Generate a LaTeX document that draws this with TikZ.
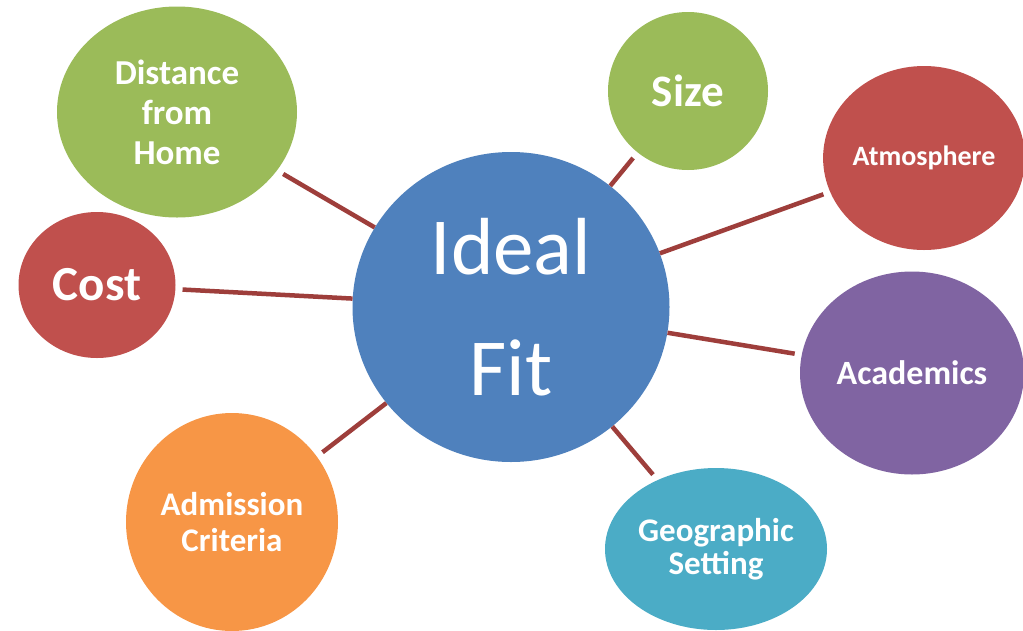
\documentclass[tikz,border=0pt]{standalone}
\usepackage{fontspec}
\setmainfont{Carlito}
\usetikzlibrary{shapes.geometric}
\definecolor{fitblue}{HTML}{4F81BD}
\definecolor{fitgreen}{HTML}{9BBB59}
\definecolor{fitred}{HTML}{C0504D}
\definecolor{fitpurple}{HTML}{8064A2}
\definecolor{fitorange}{HTML}{F79646}
\definecolor{fitteal}{HTML}{4BACC6}
\definecolor{linkred}{HTML}{9E3E3B}
\tikzset{
	bubble/.style={ellipse, inner sep=0pt, text=white, align=center, font=\bfseries},
	link/.style={line width=4.5pt, draw=linkred, shorten <=7pt},
}
\begin{document}
	\begin{tikzpicture}[x=1pt, y=-1pt]
		\fill[white] (0,0) rectangle (1023,630);
		\useasboundingbox (0,0) rectangle (1023,630);
		% Centre
		\node[ellipse, fill=fitblue, text=white, align=center, minimum width=317pt, minimum height=310pt, font=\fontsize{81}{121}\selectfont] (ideal) at (511,307) {Ideal\\Fit};
		% Satellites
		\node[bubble, fill=fitgreen, minimum width=240pt, minimum height=211pt, font=\fontsize{35}{40}\selectfont\bfseries] (distance) at (177,112) {Distance\\from\\Home};
		\node[bubble, fill=fitred, minimum width=157pt, minimum height=146pt, font=\fontsize{49}{50}\selectfont\bfseries] (cost) at (97,285) {Cost};
		\node[bubble, fill=fitorange, minimum width=212pt, minimum height=218pt, font=\fontsize{33}{36}\selectfont\bfseries] (admission) at (232,522) {Admission\\Criteria};
		\node[bubble, fill=fitgreen, minimum width=160pt, minimum height=158pt, font=\fontsize{45}{50}\selectfont\bfseries] (size) at (688,91) {Size};
		\node[bubble, fill=fitred, minimum width=198pt, minimum height=184pt, font=\fontsize{28}{32}\selectfont\bfseries] (atmosphere) at (924,158) {Atmosphere};
		\node[bubble, fill=fitpurple, minimum width=224pt, minimum height=203pt, font=\fontsize{34}{38}\selectfont\bfseries] (academics) at (912,373) {Academics};
		\node[bubble, fill=fitteal, minimum width=222pt, minimum height=162pt, font=\fontsize{33}{33}\selectfont\bfseries] (geographic) at (716,549) {Geographic\\Setting};
		% Links
		\foreach \n in {distance, cost, admission, size, atmosphere, academics, geographic}
			\draw[link] (\n) -- (ideal);
	\end{tikzpicture}
\end{document}
